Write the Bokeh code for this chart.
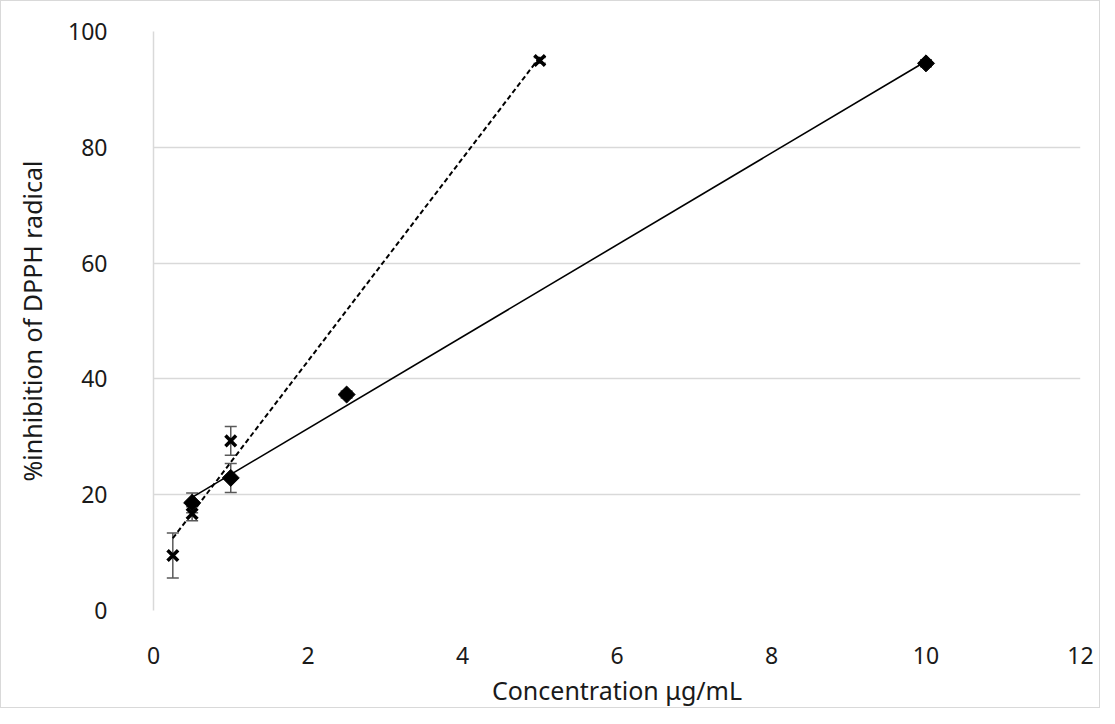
import numpy as np
from bokeh.plotting import figure
from bokeh.models import ColumnDataSource, Whisker, TeeHead, Range1d, FixedTicker
from bokeh.embed import file_html
from bokeh.resources import INLINE

# Series A (cross markers, dashed trendline)
xa = [0.25, 0.5, 1.0, 5.0]
ya = [9.5, 16.7, 29.3, 95.0]
ea = [3.9, 1.2, 2.5, 0.5]

# Series B (diamond markers, solid trendline)
xb = [0.5, 1.0, 2.5, 10.0]
yb = [18.6, 22.9, 37.3, 94.5]
eb = [1.7, 2.5, 0.6, 0.6]

x_ticks = [0, 2, 4, 6, 8, 10, 12]
y_ticks = [0, 20, 40, 60, 80, 100]

FONT = "Noto Sans"

p = figure(width=1100, height=708, output_backend="svg", toolbar_location=None,
           x_range=Range1d(0, 12), y_range=Range1d(0, 100),
           min_border_left=152, min_border_right=21, min_border_top=30, min_border_bottom=99)
p.outline_line_color = None
p.xgrid.grid_line_color = None
p.ygrid.grid_line_color = "#d9d9d9"
p.ygrid.grid_line_width = 1.5
p.xaxis.ticker = FixedTicker(ticks=x_ticks)
p.yaxis.ticker = FixedTicker(ticks=y_ticks)
for ax in (p.xaxis, p.yaxis):
    ax.major_tick_line_color = None
    ax.minor_tick_line_color = None
    ax.major_label_text_font = FONT
    ax.major_label_text_font_size = "23px"
    ax.major_label_text_color = "#1a1a1a"
    ax.axis_label_text_font = FONT
    ax.axis_label_text_font_size = "25px"
    ax.axis_label_text_font_style = "normal"
    ax.axis_label_text_color = "#1a1a1a"
p.xaxis.axis_line_color = None
p.yaxis.axis_line_color = "#d9d9d9"
p.yaxis.axis_line_width = 1.5
p.xaxis.major_label_standoff = 30
p.yaxis.major_label_standoff = 40
p.xaxis.axis_label = "Concentration μg/mL"
p.yaxis.axis_label = "%inhibition of DPPH radical"
p.xaxis.axis_label_standoff = 6
p.yaxis.axis_label_standoff = 16

# trendlines (linear regression of each series)
ma, ca = np.polyfit(xa, ya, 1)
mb, cb = np.polyfit(xb, yb, 1)
p.line([xa[0], xa[-1]], [ma * xa[0] + ca, ma * xa[-1] + ca], line_color="black",
       line_width=2, line_dash="5 3")
p.line([xb[0], xb[-1]], [mb * xb[0] + cb, mb * xb[-1] + cb], line_color="black",
       line_width=1.6)

# error bars
for xs, ys, es in ((xa, ya, ea), (xb, yb, eb)):
    src = ColumnDataSource(dict(x=xs, lo=[y - e for y, e in zip(ys, es)],
                                hi=[y + e for y, e in zip(ys, es)]))
    w = Whisker(source=src, base="x", lower="lo", upper="hi",
                line_color="#595959", line_width=1.5,
                upper_head=TeeHead(size=12, line_color="#595959", line_width=1.5),
                lower_head=TeeHead(size=12, line_color="#595959", line_width=1.5))
    p.add_layout(w)

p.scatter(xb, yb, marker="square", angle=np.pi / 4, size=12, fill_color="black",
          line_color="black")
p.scatter(xa, ya, marker="x", size=15, line_color="black", line_width=3.5)

p.styles = {"border": "1px solid #d9d9d9"}

open("out.html", "w").write(file_html(p, INLINE))
